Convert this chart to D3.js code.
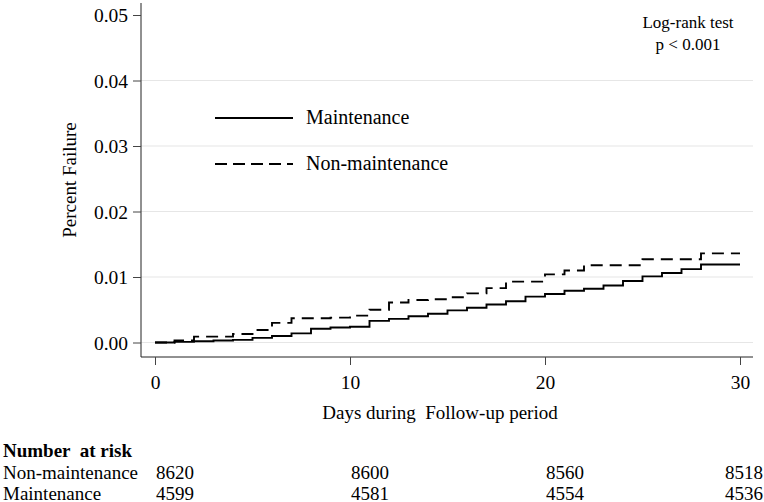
<!DOCTYPE html>
<html><head><meta charset="utf-8">
<script src="https://cdn.jsdelivr.net/npm/d3@7"></script>
<style>html,body{margin:0;padding:0;background:#fff;}svg{display:block;}text{font-family:"Liberation Serif","Times New Roman",serif;fill:#000;}</style>
</head><body>
<svg id="c" width="764" height="502"></svg>
<script>
// ---- data ----
const maintDays = [0,1,2,3,4,5,6,7,8,9,10,11,12,13,14,15,16,17,18,19,20,21,22,23,24,25,26,27,28,30];
const maintVals = [0,0.0001,0.0002,0.0003,0.0004,0.0007,0.0010,0.0014,0.0021,0.0023,0.0024,0.0033,0.0036,0.0040,0.0044,0.0049,0.0053,0.0058,0.0063,0.0070,0.0074,0.0079,0.0082,0.0087,0.0094,0.0101,0.0106,0.0112,0.0119,0.0119];
const nonDays = [0,1,2,4,5,6,7,9,10,11,12,13,14,15,16,17,18,20,21,22,25,28,30];
const nonVals = [0,0.0003,0.0009,0.0013,0.0019,0.0030,0.0037,0.0038,0.0041,0.0050,0.0061,0.0065,0.0066,0.0069,0.0075,0.0083,0.0093,0.0104,0.0110,0.0118,0.0127,0.0136,0.0136];
const xTicks = [0,10,20,30];
const yTicks = [0,0.01,0.02,0.03,0.04,0.05];
const gridTicks = [0,0.01,0.02,0.03,0.04];
const riskTimes = [0,10,20,30];
const riskNon = [8620,8600,8560,8518];
const riskMaint = [4599,4581,4554,4536];
const seriesNames = ["Maintenance","Non-maintenance"];

const svg = d3.select("#c");
const x = d3.scaleLinear().domain([0,30]).range([155,740]);
const y = d3.scaleLinear().domain([0,0.05]).range([342.5,15]);

// gridlines
svg.append("g").selectAll("line").data(gridTicks).join("line")
  .attr("x1",141).attr("x2",753).attr("y1",d=>y(d)).attr("y2",d=>y(d))
  .attr("stroke","#e6e6e6").attr("stroke-width",1.2);

// axes
const yAxis = d3.axisLeft(y).tickValues(yTicks).tickFormat(d3.format(".2f")).tickSize(8).tickSizeOuter(0);
const gy = svg.append("g").attr("transform","translate(141,0)").call(yAxis);
gy.select(".domain").attr("d","M0,3V357").attr("stroke","#222");
gy.selectAll(".tick line").attr("stroke","#444");
gy.selectAll(".tick text").attr("x",-13).attr("dy","0.34em").style("font-size","19.5px").style("font-family","Liberation Serif");

const xAxis = d3.axisBottom(x).tickValues(xTicks).tickFormat(d3.format("d")).tickSize(8).tickSizeOuter(0);
const gx = svg.append("g").attr("transform","translate(0,357)").call(xAxis);
gx.select(".domain").attr("d","M141,0H753").attr("stroke","#222");
gx.selectAll(".tick line").attr("stroke","#444");
gx.selectAll(".tick text").attr("y",18).attr("dy","0.71em").style("font-size","19.5px").style("font-family","Liberation Serif");

// curves
const line = d3.line().x(d=>x(d[0])).y(d=>y(d[1])).curve(d3.curveStepAfter);
svg.append("path").datum(maintDays.map((d,i)=>[d,maintVals[i]]))
  .attr("d",line).attr("fill","none").attr("stroke","#000").attr("stroke-width",1.9);
svg.append("path").datum(nonDays.map((d,i)=>[d,nonVals[i]]))
  .attr("d",line).attr("fill","none").attr("stroke","#000").attr("stroke-width",1.9)
  .attr("stroke-dasharray","12,7");

// legend
const leg = svg.append("g");
[[118,null],[164,"12,6"]].forEach((s,i)=>{
  leg.append("line").attr("x1",215).attr("x2",293).attr("y1",s[0]).attr("y2",s[0])
    .attr("stroke","#000").attr("stroke-width",1.9).attr("stroke-dasharray",s[1]);
  leg.append("text").attr("x",306).attr("y",s[0]+6).style("font-size","20px").text(seriesNames[i]);
});

// annotation
svg.append("text").attr("x",688).attr("y",28).attr("text-anchor","middle").style("font-size","17px").text("Log-rank test");
svg.append("text").attr("x",688).attr("y",50).attr("text-anchor","middle").style("font-size","17px").text("p < 0.001");

// axis titles
svg.append("text").attr("x",440).attr("y",419).attr("text-anchor","middle").style("font-size","19px").attr("xml:space","preserve").text("Days during  Follow-up period");
svg.append("text").attr("transform","translate(76,180) rotate(-90)").attr("text-anchor","middle").style("font-size","19px").text("Percent Failure");

// risk table
svg.append("text").attr("x",3).attr("y",457).style("font-size","19px").style("font-weight","bold").attr("xml:space","preserve").text("Number  at risk");
[["Non-maintenance",riskNon,479],["Maintenance",riskMaint,499.5]].forEach(r=>{
  svg.append("text").attr("x",3).attr("y",r[2]).style("font-size","19px").text(r[0]);
  svg.append("g").selectAll("text").data(riskTimes).join("text")
    .attr("x",(t,i)=> i===riskTimes.length-1 ? 763 : x(t)+1)
    .attr("text-anchor",(t,i)=> i===riskTimes.length-1 ? "end" : "start")
    .attr("y",r[2]).style("font-size","19px").text((t,i)=>r[1][i]);
});
</script>
</body></html>
